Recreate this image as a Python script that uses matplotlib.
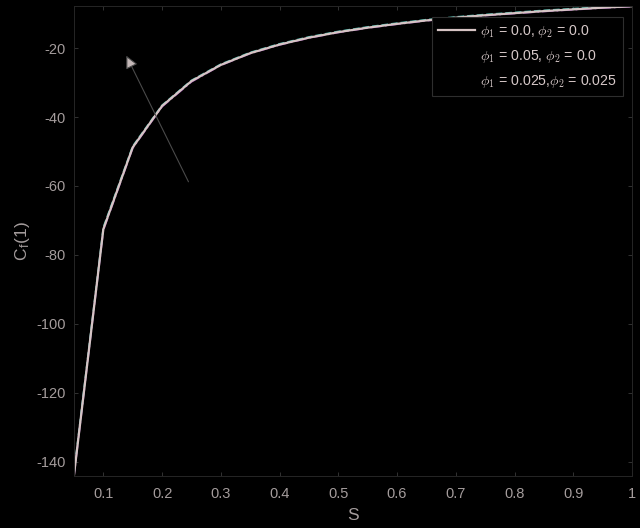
import matplotlib
matplotlib.use("Agg")
import matplotlib.pyplot as plt
from matplotlib.lines import Line2D

plt.rcParams['font.family'] = ['Liberation Sans', 'DejaVu Sans']
plt.rcParams['mathtext.fontset'] = 'cm'
plt.rcParams['axes.unicode_minus'] = False

S = [0.05, 0.10, 0.15, 0.20, 0.25, 0.30, 0.35, 0.40, 0.45, 0.50,
     0.55, 0.60, 0.65, 0.70, 0.75, 0.80, 0.85, 0.90, 0.95, 1.00]
cf_00_00 = [-143.8, -72.5, -48.8, -36.8, -29.6, -24.9, -21.5, -19.0, -17.0, -15.4,
            -14.1, -13.0, -12.0, -11.2, -10.5, -9.9, -9.3, -8.8, -8.3, -7.9]
cf_05_00 = [-143.2, -72.0, -48.5, -36.6, -29.4, -24.7, -21.3, -18.8, -16.8, -15.2,
            -13.9, -12.8, -11.8, -11.0, -10.3, -9.7, -9.1, -8.6, -8.1, -7.7]
cf_025_025 = [-144.0, -72.8, -49.0, -37.0, -29.8, -25.0, -21.6, -19.1, -17.1, -15.5,
              -14.2, -13.1, -12.1, -11.3, -10.6, -10.0, -9.4, -8.9, -8.4, -8.0]
labels = [r'$\phi_1$ = 0.0, $\phi_2$ = 0.0',
          r'$\phi_1$ = 0.05, $\phi_2$ = 0.0',
          r'$\phi_1$ = 0.025,$\phi_2$ = 0.025']

fig = plt.figure(figsize=(6.4, 5.28), dpi=100, facecolor='black')
ax = fig.add_axes([0.1156, 0.0985, 0.8719, 0.8901], facecolor='black')

ax.plot(S, cf_025_025, color='#8a3aa0', lw=1.3, ls='-.')
ax.plot(S, cf_05_00, color='#4bb5a8', lw=1.3, ls='--')
ax.plot(S, cf_00_00, color='#d6c4c4', lw=1.6, ls='-')

ax.set_xlim(0.05, 1.0)
ax.set_ylim(-144.06, -7.83)
ax.set_xticks([0.1, 0.2, 0.3, 0.4, 0.5, 0.6, 0.7, 0.8, 0.9, 1.0])
ax.set_xticklabels(['0.1', '0.2', '0.3', '0.4', '0.5', '0.6', '0.7', '0.8', '0.9', '1'])
ax.set_yticks([-140, -120, -100, -80, -60, -40, -20])

tc = '#a49c9c'
ax.tick_params(direction='in', length=3, width=0.6, color='#3a3a3a',
               labelcolor=tc, labelsize=10.5, top=True, right=True)
ax.tick_params(axis='x', pad=8)
ax.tick_params(axis='y', pad=6)
for sp in ax.spines.values():
    sp.set_color('#262626')
    sp.set_linewidth(0.7)

ax.set_xlabel('S', color=tc, fontsize=12.5, labelpad=5)
ax.set_ylabel(r'C$_\mathregular{f}$(1)', color=tc, fontsize=12.5, labelpad=3)

ax.annotate('', xy=(0.137, -21.5), xytext=(0.247, -59.5),
            arrowprops=dict(arrowstyle='-|>', ec='#4a4a4a', fc='#c4b8b8',
                            lw=0.8, mutation_scale=19))

handles = [Line2D([], [], color='#d6c4c4', lw=1.6),
           Line2D([], [], color='black', lw=1.3),
           Line2D([], [], color='black', lw=1.3)]
leg = ax.legend(handles, labels, loc='upper left',
                bbox_to_anchor=(432 / 640, 1 - 17 / 528), bbox_transform=fig.transFigure,
                borderaxespad=0, facecolor='black', edgecolor='#2e2e2e', fancybox=False,
                framealpha=1, fontsize=10.2, labelspacing=0.55, handlelength=2.6,
                handletextpad=0.35, borderpad=0.45)
for t in leg.get_texts():
    t.set_color('#d6c8c8')
leg.get_frame().set_linewidth(0.8)

fig.savefig('out.png', dpi=100, facecolor='black')
